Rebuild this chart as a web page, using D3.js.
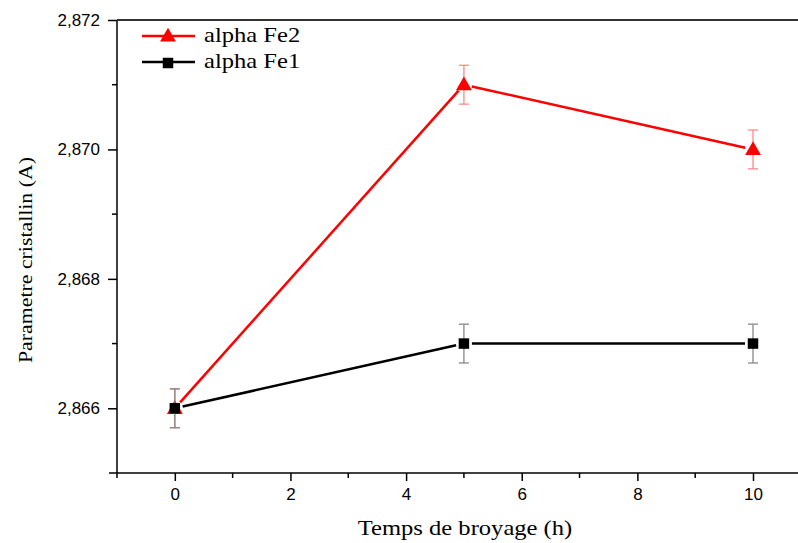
<!DOCTYPE html>
<html>
<head>
<meta charset="utf-8">
<script src="https://cdn.jsdelivr.net/npm/d3@7"></script>
<style>
  body { margin: 0; background: #fff; }
  svg { display: block; }
</style>
</head>
<body>
<svg id="chart" width="798" height="543"></svg>
<script>
// data
var hours = [0, 5, 10];
var fe2 = [2.866, 2.871, 2.870];
var fe2Err = [0.0003, 0.0003, 0.0003];
var fe1 = [2.866, 2.867, 2.867];
var fe1Err = [0.0003, 0.0003, 0.0003];
var xTicks = [0, 2, 4, 6, 8, 10];
var yTicks = [2.866, 2.868, 2.870, 2.872];

var width = 798, height = 543;
var plotLeft = 117, plotTop = 20, plotBottom = 473;

var svg = d3.select("#chart");

var x = d3.scaleLinear().domain([-1, 10]).range([plotLeft, 753]);
var y = d3.scaleLinear().domain([2.865, 2.872]).range([plotBottom, plotTop]);

var fr = d3.formatLocale({ decimal: ",", thousands: ".", grouping: [3], currency: ["", ""] });
var fmt = fr.format(".3f");
var tickFont = "Liberation Sans, Arial, sans-serif";
var titleFont = "Liberation Serif, Times New Roman, serif";

// x axis, runs off the right edge like the original
var xMinor = d3.range(1, 12, 2);
var xAxis = d3.axisBottom(x).tickValues(xTicks).tickSize(8).tickPadding(7).tickFormat(d3.format("d"));
var gx = svg.append("g").attr("transform", "translate(0," + plotBottom + ")").call(xAxis);
gx.select(".domain").remove();
gx.append("line").attr("x1", plotLeft - 8).attr("x2", width).attr("stroke", "#000").attr("stroke-width", 1.5);
gx.selectAll(".tick line").attr("stroke-width", 1.5);
gx.selectAll(".minor").data(xMinor)
  .enter().append("line")
  .attr("class", "minor")
  .attr("x1", function (d) { return x(d); })
  .attr("x2", function (d) { return x(d); })
  .attr("y2", 5)
  .attr("stroke", "#000").attr("stroke-width", 1.5);
gx.selectAll("text").attr("font-family", tickFont).attr("font-size", 17).attr("fill", "#000");

// y axis
var yMinor = [2.867, 2.869, 2.871];
var yAxis = d3.axisLeft(y).tickValues(yTicks).tickSize(9).tickPadding(8).tickFormat(fmt);
var gy = svg.append("g").attr("transform", "translate(" + plotLeft + ",0)").call(yAxis);
gy.select(".domain").remove();
gy.append("line").attr("y1", plotTop).attr("y2", plotBottom + 5).attr("stroke", "#000").attr("stroke-width", 1.5);
gy.selectAll(".tick line").attr("stroke-width", 1.5);
gy.selectAll(".minor").data(yMinor)
  .enter().append("line")
  .attr("class", "minor")
  .attr("y1", function (d) { return y(d); })
  .attr("y2", function (d) { return y(d); })
  .attr("x2", -5)
  .attr("stroke", "#000").attr("stroke-width", 1.5);
gy.selectAll("text").attr("font-family", tickFont).attr("font-size", 17).attr("fill", "#000");

// top frame line
svg.append("line")
  .attr("x1", plotLeft).attr("x2", width)
  .attr("y1", plotTop).attr("y2", plotTop)
  .attr("stroke", "#333").attr("stroke-width", 2);

// axis titles - the original serif is stretched wide, so scale glyphs in x
svg.append("text")
  .attr("transform", "translate(465,535) scale(1.17,1)")
  .attr("text-anchor", "middle")
  .attr("font-family", titleFont)
  .attr("font-size", 21)
  .text("Temps de broyage (h)");

svg.append("text")
  .attr("transform", "translate(32,260) rotate(-90) scale(1.12,1)")
  .attr("text-anchor", "middle")
  .attr("font-family", titleFont)
  .attr("font-size", 19.5)
  .text("Parametre cristallin (A)");

// one series: error bars, gapped line segments, markers
function drawSeries(vals, errs, color, errColor, shape) {
  var pts = hours.map(function (h, i) { return { x: x(h), y: y(vals[i]), lo: y(vals[i] - errs[i]), hi: y(vals[i] + errs[i]) }; });
  var g = svg.append("g");

  var eb = g.selectAll(".err").data(pts).enter().append("g").attr("stroke", errColor).attr("stroke-width", 1.3);
  eb.append("line").attr("x1", function (d) { return d.x; }).attr("x2", function (d) { return d.x; })
    .attr("y1", function (d) { return d.hi; }).attr("y2", function (d) { return d.lo; });
  eb.append("line").attr("x1", function (d) { return d.x - 5; }).attr("x2", function (d) { return d.x + 5; })
    .attr("y1", function (d) { return d.hi; }).attr("y2", function (d) { return d.hi; });
  eb.append("line").attr("x1", function (d) { return d.x - 5; }).attr("x2", function (d) { return d.x + 5; })
    .attr("y1", function (d) { return d.lo; }).attr("y2", function (d) { return d.lo; });

  var gap = 8;
  var segs = d3.pairs(pts).map(function (p) {
    var dx = p[1].x - p[0].x, dy = p[1].y - p[0].y, len = Math.sqrt(dx * dx + dy * dy);
    var ux = dx / len, uy = dy / len;
    return { x1: p[0].x + ux * gap, y1: p[0].y + uy * gap, x2: p[1].x - ux * gap, y2: p[1].y - uy * gap };
  });
  g.selectAll(".seg").data(segs).enter().append("line")
    .attr("x1", function (d) { return d.x1; }).attr("y1", function (d) { return d.y1; })
    .attr("x2", function (d) { return d.x2; }).attr("y2", function (d) { return d.y2; })
    .attr("stroke", color).attr("stroke-width", 2.5);

  var sym = d3.symbol().type(shape).size(110);
  g.selectAll(".mark").data(pts).enter().append("path")
    .attr("d", sym)
    .attr("transform", function (d) { return "translate(" + d.x + "," + (d.y + (shape === d3.symbolTriangle ? 1 : 0)) + ")"; })
    .attr("fill", color);
}

drawSeries(fe2, fe2Err, "#ff0000", "#f88", d3.symbolTriangle);
drawSeries(fe1, fe1Err, "#000000", "#888", d3.symbolSquare);

// legend
var legend = [
  { name: "alpha Fe2", color: "#ff0000", shape: d3.symbolTriangle, y: 36 },
  { name: "alpha Fe1", color: "#000000", shape: d3.symbolSquare, y: 62 }
];
var lg = svg.selectAll(".legend").data(legend).enter().append("g")
  .attr("transform", function (d) { return "translate(0," + d.y + ")"; });
lg.append("line").attr("x1", 142).attr("x2", 195).attr("stroke", function (d) { return d.color; }).attr("stroke-width", 2.5);
lg.append("path").attr("d", function (d) { return d3.symbol().type(d.shape).size(110)(); })
  .attr("transform", "translate(168,1)")
  .attr("fill", function (d) { return d.color; });
lg.append("text")
  .attr("transform", "translate(204,6) scale(1.17,1)")
  .attr("font-family", titleFont)
  .attr("font-size", 21)
  .text(function (d) { return d.name; });
</script>
</body>
</html>
